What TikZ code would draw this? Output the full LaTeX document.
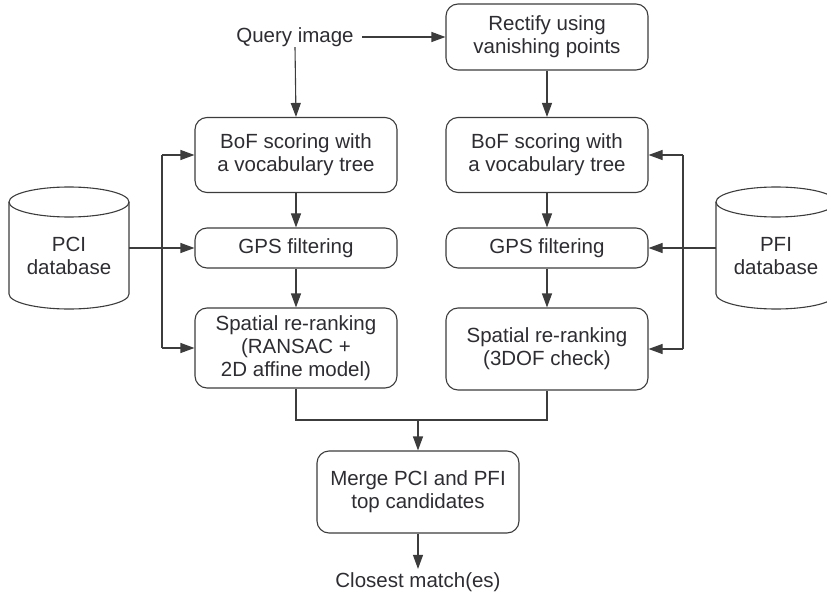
\documentclass[tikz,border=0pt]{standalone}
\usepackage{fontspec}
\setmainfont{Liberation Sans}
\usetikzlibrary{arrows.meta}
\definecolor{lncol}{RGB}{60,60,60}
\definecolor{txcol}{RGB}{45,45,50}
\begin{document}
\begin{tikzpicture}[x=1pt,y=-1pt,
  font=\fontsize{20.5}{23}\selectfont, text=txcol,
  box/.style={draw=lncol, line width=1.1pt, rounded corners=12pt, minimum width=202pt, align=center, fill=white},
  wire/.style={draw=lncol, line width=1.1pt},
  arr/.style={draw=lncol, line width=1.1pt, -{Triangle[length=14pt,width=10pt]}},
  cyl/.style={draw=lncol, line width=1.1pt}]
\useasboundingbox (0,0) rectangle (827,596);

% nodes
\node (query) at (295,37) {Query image};
\node[box, minimum height=66pt] (rect) at (547,37) {Rectify using\\vanishing points};
\node[box, minimum height=75pt] (bofL) at (296,155) {BoF scoring with\\a vocabulary tree};
\node[box, minimum height=75pt] (bofR) at (547,155) {BoF scoring with\\a vocabulary tree};
\node[box, minimum height=40pt] (gpsL) at (296,248) {GPS filtering};
\node[box, minimum height=40pt] (gpsR) at (547,248) {GPS filtering};
\node[box, minimum height=80pt] (spL) at (296,348) {Spatial re-ranking\\(RANSAC +\\2D affine model)};
\node[box, minimum height=82pt] (spR) at (547,349) {Spatial re-ranking\\(3DOF check)};
\node[box, minimum height=82pt] (merge) at (418,492) {Merge PCI and PFI\\top candidates};
\node (closest) at (418,582) {Closest match(es)};

% PCI cylinder
\node[minimum width=120pt, minimum height=122pt, inner sep=0pt] (pci) at (69,248) {};
\draw[cyl] (69,202) ellipse [x radius=60pt, y radius=15pt];
\draw[cyl] (9,202) -- (9,294) arc[start angle=180, end angle=360, x radius=60pt, y radius=15pt] -- (129,202);
\node[align=center] (pcitext) at (69,256) {PCI\\database};

% PFI cylinder
\node[minimum width=120pt, minimum height=122pt, inner sep=0pt] (pfi) at (776,248) {};
\draw[cyl] (776,202) ellipse [x radius=60pt, y radius=15pt];
\draw[cyl] (716,202) -- (716,294) arc[start angle=180, end angle=360, x radius=60pt, y radius=15pt] -- (836,202);
\node[align=center] (pfitext) at (776,256) {PFI\\database};

% connectors
\draw[arr] ([xshift=5pt]query.east) -- (rect.west);
\draw[arr] ([yshift=3pt]query.south) -- (bofL.north);
\draw[arr] (rect.south) -- (bofR.north);
\draw[arr] (bofL.south) -- (gpsL.north);
\draw[arr] (gpsL.south) -- (spL.north);
\draw[arr] (bofR.south) -- (gpsR.north);
\draw[arr] (gpsR.south) -- (spR.north);

\coordinate (lt) at (162,155);
\coordinate (lb) at (162,348);
\draw[wire] (lt) -- (lb);
\draw[arr] (pci.east) -- (gpsL.west);
\draw[arr] (lt) -- (bofL.west);
\draw[arr] (lb) -- (spL.west);

\coordinate (rt) at (683,155);
\coordinate (rb) at (683,349);
\draw[wire] (rt) -- (rb);
\draw[arr] (pfi.west) -- (gpsR.east);
\draw[arr] (rt) -- (bofR.east);
\draw[arr] (rb) -- (spR.east);

\coordinate (j) at (418,420);
\draw[wire] (spL.south) |- (j) -| (spR.south);
\draw[arr] (j) -- (merge.north);
\draw[arr] (merge.south) -- (closest.north);
\end{tikzpicture}
\end{document}
